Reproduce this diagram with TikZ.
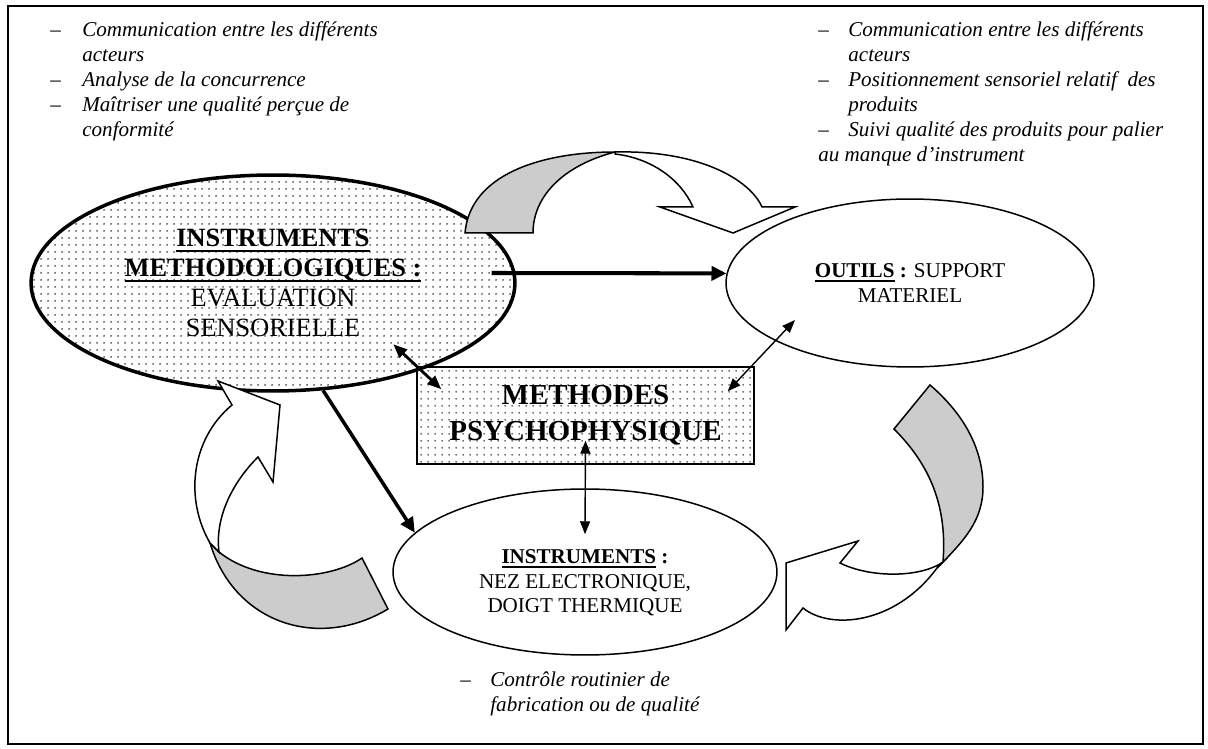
\documentclass[tikz,border=0pt]{standalone}
\usepackage{fontspec}
\setmainfont{Liberation Serif}
\usetikzlibrary{calc,shapes.geometric,patterns.meta,arrows.meta}

\newsavebox{\ulbox}
\newcommand{\ulbold}[1]{\sbox\ulbox{#1}\rlap{\rule[-0.2em]{\wd\ulbox}{0.07em}}\usebox\ulbox}
\newcommand{\listfont}{\fontsize{12}{14.2}\selectfont\itshape}

\tikzset{
  bubble/.style={ellipse,draw,line width=0.85pt,inner sep=0pt},
  dotfill/.style={pattern={Dots[distance=4pt,radius=0.6pt]},pattern color=black!75},
  ribbon/.style={draw,line width=0.85pt,line join=miter},
  heavy/.style={line width=2.3pt,-{Triangle[length=0.3cm,width=0.28cm]}},
  link/.style={line width=0.8pt,{Triangle[length=0.26cm,width=0.2cm]}-{Triangle[length=0.26cm,width=0.2cm]}},
}

\begin{document}
\begin{tikzpicture}[x=0.02cm,y=-0.02cm]
% Frame
\useasboundingbox (0,0) rectangle (1208,749);
\draw[line width=0.75pt] (8,6) rectangle (1203,744);

% Ellipses and box
\node[bubble,line width=2pt,dotfill,minimum width=9.68cm,minimum height=4.32cm,align=center,font=\fontsize{15}{17}\selectfont] (meth) at (273,283)
  {\textbf{\ulbold{INSTRUMENTS}}\\ \textbf{\ulbold{METHODOLOGIQUES :}}\\ EVALUATION\\ SENSORIELLE};
\node[bubble,minimum width=7.36cm,minimum height=3.36cm,align=center,font=\fontsize{12}{14}\selectfont] (outils) at (910,283)
  {\textbf{\ulbold{OUTILS} :} SUPPORT\\ MATERIEL};
\node[bubble,minimum width=7.68cm,minimum height=3.32cm] (instr) at (585,572) {};
\node[align=center,font=\fontsize{12}{14}\selectfont] (instrtxt) at (585,583)
  {\textbf{\ulbold{INSTRUMENTS} :}\\ NEZ ELECTRONIQUE,\\ DOIGT THERMIQUE};
\node[draw,line width=0.85pt,dotfill,minimum width=6.74cm,minimum height=1.94cm,align=center,font=\fontsize{16.5}{20.5}\selectfont\bfseries] (psycho) at (585.5,415.5)
  {METHODES\\ PSYCHOPHYSIQUE};

% Curved arrow, top
\filldraw[ribbon,fill=black!20] (465,233) .. controls (470,175) and (540,152) .. (615,152)
  .. controls (565,165) and (533,195) .. (533,233) -- cycle;
\filldraw[ribbon,fill=white] (615,152) .. controls (700,150) and (750,180) .. (762,207)
  -- (795,207) -- (733,233) -- (660,207) -- (693,207)
  .. controls (680,178) and (650,158) .. (615,154) -- cycle;

% Curved arrow, right
\filldraw[ribbon,fill=black!20] (894,429) -- (930,385) .. controls (965,415) and (983,450) .. (983,487)
  .. controls (983,520) and (965,540) .. (937,568) -- (943,562)
  .. controls (948,500) and (925,460) .. (894,429) -- cycle;
\filldraw[ribbon,fill=white] (943,562) .. controls (920,578) and (870,578) .. (840,563)
  -- (858,541) -- (786,563) -- (786,630) -- (803,608)
  .. controls (830,630) and (895,625) .. (937,568) -- cycle;

% Curved arrow, left
\filldraw[ribbon,fill=black!20] (362,558) -- (388,609) .. controls (320,650) and (235,625) .. (210,543)
  -- (219,552) .. controls (260,585) and (330,580) .. (362,558) -- cycle;
\filldraw[ribbon,fill=white] (210,543) .. controls (185,500) and (190,440) .. (232,405)
  -- (218,381) -- (280,405) -- (273,482) -- (258,457)
  .. controls (230,485) and (215,520) .. (219,552) -- cycle;

% Links
\draw[heavy] ($(meth.east)+(-25,-10)$) -- (outils.177);
\draw[heavy,line width=2pt] (meth.-65) -- (instr.167);
\draw[line width=1.6pt,{Triangle[length=0.28cm,width=0.22cm]}-{Triangle[length=0.28cm,width=0.22cm]}]
  ($(psycho.north west)+(-23,-22)$) -- ($(psycho.north west)+(25,23)$);
\draw[link] ($(psycho.north east)+(-27,25)$) -- ($(outils.center)+(-115,37)$);
\draw[link] ($(psycho.south)+(0,-24)$) -- ($(instr.north)+(0,46)$);

% Notes
\node[anchor=base west,inner sep=0pt,font=\listfont] (notesmeth) at (50,37)
  {\begin{tabular}[t]{@{}p{0.64cm}@{}l@{}}
   -- & Communication entre les différents\\
      & acteurs\\
   -- & Analyse de la concurrence\\
   -- & Maîtriser une qualité perçue de\\
      & conformité
   \end{tabular}};
\node[anchor=base west,inner sep=0pt,font=\listfont] (notesoutils) at (818,37)
  {\begin{tabular}[t]{@{}p{0.6cm}@{}l@{}}
   -- & Communication entre les différents\\
      & acteurs\\
   -- & Positionnement sensoriel relatif\ \ des\\
      & produits\\
   -- & Suivi qualité des produits pour palier\\
   \multicolumn{2}{@{}l@{}}{au manque d’instrument}
   \end{tabular}};
\node[anchor=base west,inner sep=0pt,font=\listfont] (notesinstr) at (460,687)
  {\begin{tabular}[t]{@{}p{0.6cm}@{}l@{}}
   -- & Contrôle routinier de\\
      & fabrication ou de qualité
   \end{tabular}};
\end{tikzpicture}
\end{document}
